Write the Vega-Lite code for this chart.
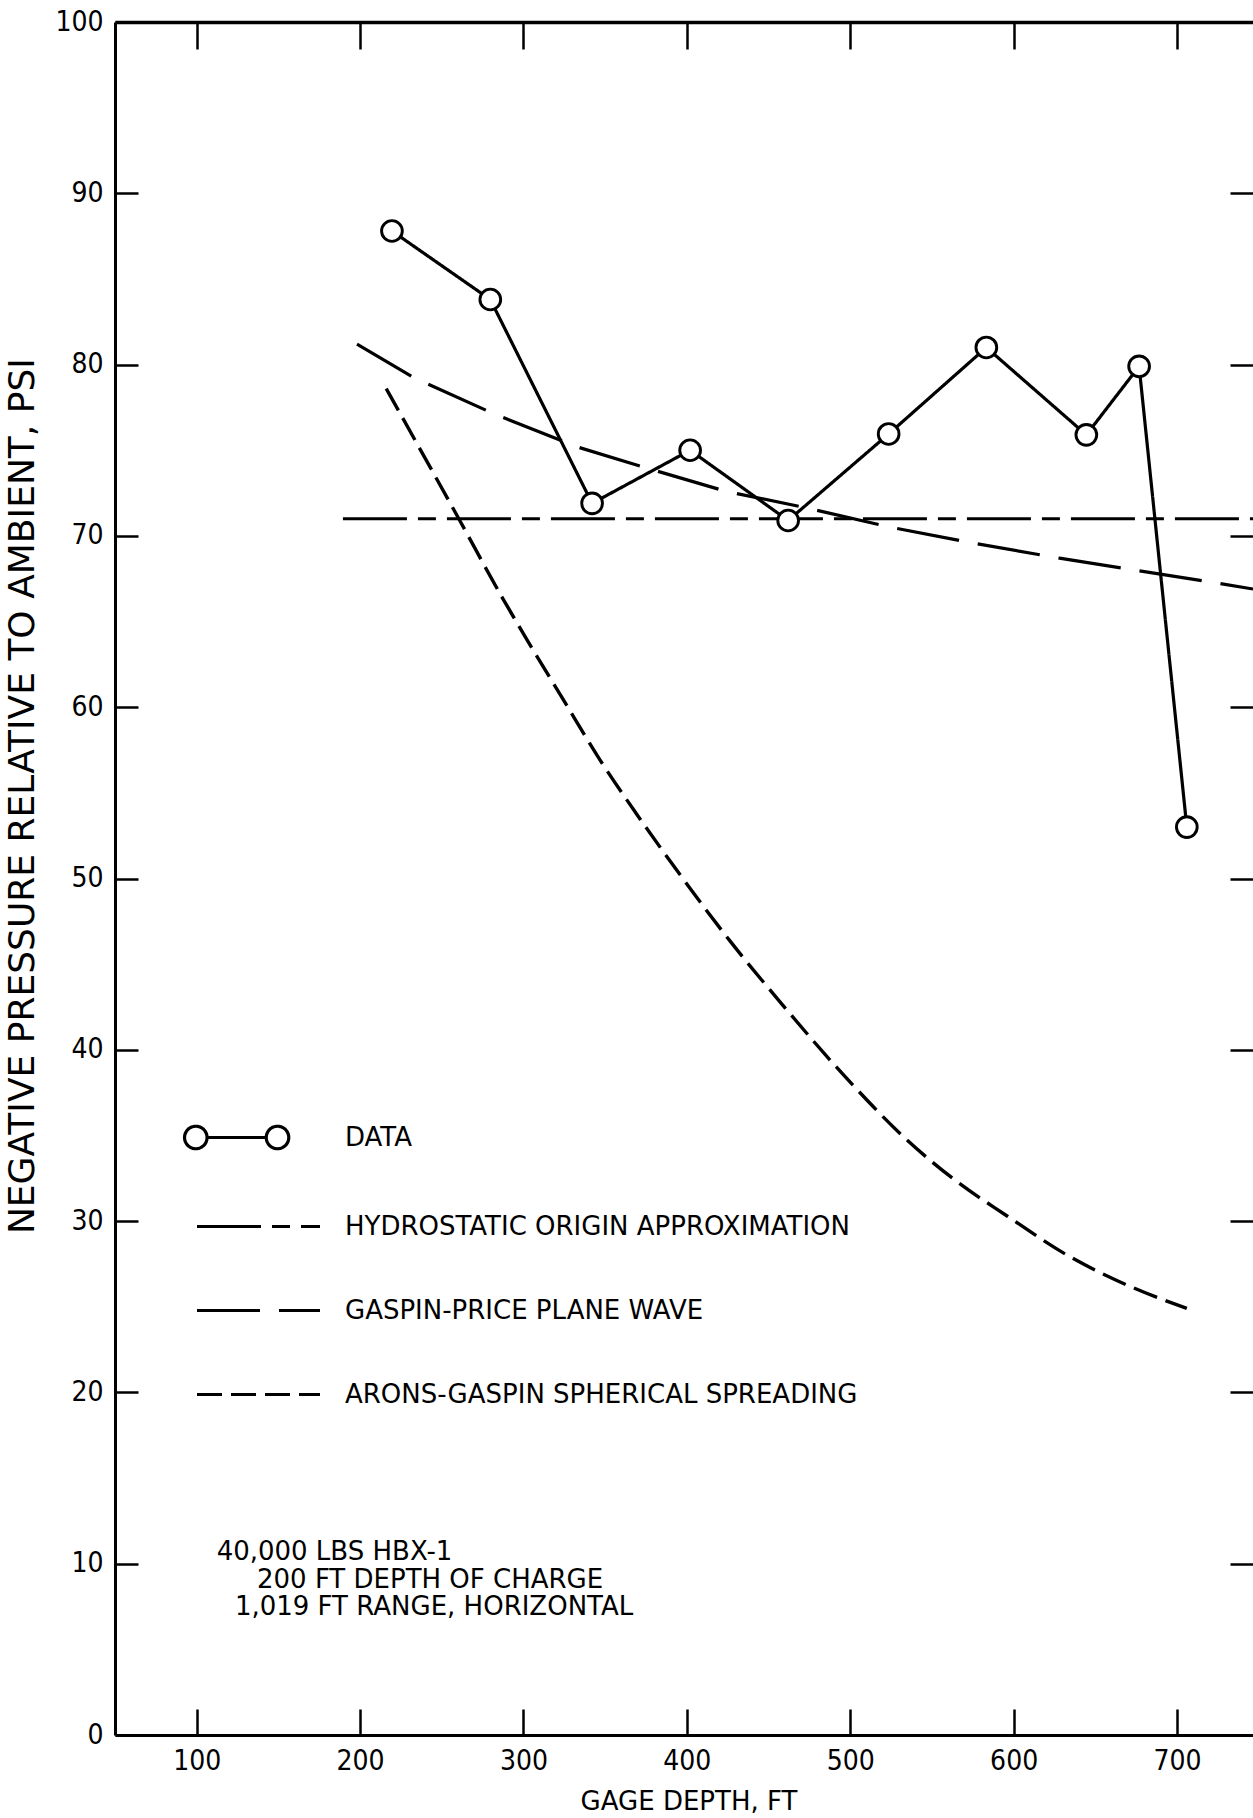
{
  "$schema": "https://vega.github.io/schema/vega-lite/v6.json",
  "width": 1138,
  "height": 1713,
  "autosize": {"type": "none"},
  "padding": {"left": 115, "top": 22, "right": 0, "bottom": 83},
  "background": "white",
  "config": {
    "view": {"stroke": null},
    "axis": {
      "grid": false,
      "domainColor": "black",
      "tickColor": "black",
      "labelColor": "black",
      "titleColor": "black",
      "domainWidth": 3,
      "tickWidth": 2.5,
      "labelFont": "Liberation Sans Narrow, DejaVu Sans Condensed, sans-serif",
      "labelFontSize": 28,
      "titleFont": "DejaVu Sans",
      "titleFontWeight": "normal",
      "labelFlush": false,
      "labelOverlap": false
    }
  },
  "datasets": {
    "curves": [
      {"series": "DATA", "x": 219.5, "y": 87.8},
      {"series": "DATA", "x": 279.7, "y": 83.8},
      {"series": "DATA", "x": 342, "y": 71.9},
      {"series": "DATA", "x": 402, "y": 75.0},
      {"series": "DATA", "x": 462, "y": 70.9},
      {"series": "DATA", "x": 523.5, "y": 75.95},
      {"series": "DATA", "x": 583.3, "y": 81.0},
      {"series": "DATA", "x": 644.5, "y": 75.9},
      {"series": "DATA", "x": 676.8, "y": 79.9},
      {"series": "DATA", "x": 706, "y": 53.0},
      {"series": "HYDROSTATIC ORIGIN APPROXIMATION", "x": 189.5, "y": 71.0},
      {"series": "HYDROSTATIC ORIGIN APPROXIMATION", "x": 746.5, "y": 71.0},
      {"series": "GASPIN-PRICE PLANE WAVE", "x": 198.1, "y": 81.2},
      {"series": "GASPIN-PRICE PLANE WAVE", "x": 233.6, "y": 79.2},
      {"series": "GASPIN-PRICE PLANE WAVE", "x": 282.6, "y": 77.1},
      {"series": "GASPIN-PRICE PLANE WAVE", "x": 332.7, "y": 75.2},
      {"series": "GASPIN-PRICE PLANE WAVE", "x": 374, "y": 74.0},
      {"series": "GASPIN-PRICE PLANE WAVE", "x": 424, "y": 72.6},
      {"series": "GASPIN-PRICE PLANE WAVE", "x": 470, "y": 71.7},
      {"series": "GASPIN-PRICE PLANE WAVE", "x": 525, "y": 70.5},
      {"series": "GASPIN-PRICE PLANE WAVE", "x": 574, "y": 69.6},
      {"series": "GASPIN-PRICE PLANE WAVE", "x": 628, "y": 68.7},
      {"series": "GASPIN-PRICE PLANE WAVE", "x": 681, "y": 67.9},
      {"series": "GASPIN-PRICE PLANE WAVE", "x": 721, "y": 67.3},
      {"series": "GASPIN-PRICE PLANE WAVE", "x": 746.5, "y": 66.9},
      {"series": "ARONS-GASPIN SPHERICAL SPREADING", "x": 216, "y": 78.6},
      {"series": "ARONS-GASPIN SPHERICAL SPREADING", "x": 261, "y": 70.9},
      {"series": "ARONS-GASPIN SPHERICAL SPREADING", "x": 287, "y": 66.4},
      {"series": "ARONS-GASPIN SPHERICAL SPREADING", "x": 303, "y": 63.8},
      {"series": "ARONS-GASPIN SPHERICAL SPREADING", "x": 324, "y": 60.5},
      {"series": "ARONS-GASPIN SPHERICAL SPREADING", "x": 347, "y": 56.9},
      {"series": "ARONS-GASPIN SPHERICAL SPREADING", "x": 369, "y": 53.8},
      {"series": "ARONS-GASPIN SPHERICAL SPREADING", "x": 396, "y": 50.2},
      {"series": "ARONS-GASPIN SPHERICAL SPREADING", "x": 426, "y": 46.4},
      {"series": "ARONS-GASPIN SPHERICAL SPREADING", "x": 457, "y": 42.8},
      {"series": "ARONS-GASPIN SPHERICAL SPREADING", "x": 502, "y": 37.9},
      {"series": "ARONS-GASPIN SPHERICAL SPREADING", "x": 534, "y": 34.8},
      {"series": "ARONS-GASPIN SPHERICAL SPREADING", "x": 564, "y": 32.4},
      {"series": "ARONS-GASPIN SPHERICAL SPREADING", "x": 596, "y": 30.3},
      {"series": "ARONS-GASPIN SPHERICAL SPREADING", "x": 633, "y": 28.0},
      {"series": "ARONS-GASPIN SPHERICAL SPREADING", "x": 671, "y": 26.2},
      {"series": "ARONS-GASPIN SPHERICAL SPREADING", "x": 706, "y": 24.9}
    ],
    "notes": [
      {"line": 1, "note": "40,000 LBS HBX-1"},
      {"line": 2, "note": "200 FT DEPTH OF CHARGE"},
      {"line": 3, "note": "1,019 FT RANGE, HORIZONTAL"}
    ]
  },
  "data": {"name": "curves"},
  "layer": [
    {
      "transform": [{"filter": "datum.series !== 'ARONS-GASPIN SPHERICAL SPREADING'"}],
      "mark": {"type": "line", "color": "black", "strokeWidth": 3.2},
      "encoding": {
        "x": {
          "field": "x", "type": "quantitative",
          "scale": {"domain": [50, 746.5], "nice": false, "zero": false},
          "axis": {
            "orient": "bottom",
            "values": [100, 200, 300, 400, 500, 600, 700],
            "title": "GAGE DEPTH, FT",
            "tickSize": -26,
            "labelPadding": 38,
            "labelBaseline": "top",
            "titleFontSize": 26,
            "titleX": 573.5,
            "titleY": 66,
            "titleBaseline": "middle",
            "titleAlign": "center"
          }
        },
        "y": {
          "field": "y", "type": "quantitative",
          "scale": {"domain": [0, 100], "nice": false, "zero": false},
          "axis": {
            "orient": "left",
            "values": [0, 10, 20, 30, 40, 50, 60, 70, 80, 90, 100],
            "title": "NEGATIVE PRESSURE RELATIVE TO AMBIENT, PSI",
            "tickSize": -23,
            "labelPadding": 35,
            "labelAlign": "right",
            "labelBaseline": "middle",
            "titleFontSize": 36,
            "titleX": -93,
            "titleY": 773.6,
            "titleAngle": -90,
            "titleBaseline": "middle",
            "titleAlign": "center"
          }
        },
        "strokeDash": {
          "field": "series", "type": "nominal",
          "scale": {
            "domain": ["DATA", "HYDROSTATIC ORIGIN APPROXIMATION", "GASPIN-PRICE PLANE WAVE", "ARONS-GASPIN SPHERICAL SPREADING"],
            "range": [[1, 0], [64, 11, 18, 11], [63, 19], [25, 9]]
          },
          "legend": {
            "orient": "none",
            "legendX": 121.5,
            "legendY": 1093.5,
            "title": null,
            "padding": 0,
            "symbolSize": 1600,
            "symbolType": "M-3.075,0L3.075,0",
            "symbolStrokeWidth": 3.2,
            "symbolStrokeColor": "black",
            "symbolFillColor": "white",
            "labelFont": "DejaVu Sans",
            "labelFontSize": 26,
            "labelColor": "black",
            "labelOffset": 64.5,
            "labelLimit": 1000,
            "rowPadding": 49,
            "encode": {
              "symbols": {
                "update": {
                  "shape": {"signal": "datum.value === 'DATA' ? 'M-3.6975,0A0.5625,0.5625,0,1,0,-2.5725,0A0.5625,0.5625,0,1,0,-3.6975,0ZM-2.5725,0L0.3875,0M0.3875,0A0.5625,0.5625,0,1,0,1.5125,0A0.5625,0.5625,0,1,0,0.3875,0Z' : 'M-3.075,0L3.075,0'"},
                  "strokeDash": {"signal": "datum.value === 'DATA' ? [1, 0] : datum.value === 'HYDROSTATIC ORIGIN APPROXIMATION' ? [43, 8, 21, 11] : datum.value === 'GASPIN-PRICE PLANE WAVE' ? [52, 10] : [23, 9]"},
                  "stroke": {"value": "black"},
                  "fill": {"value": "white"},
                  "strokeWidth": {"value": 3.2}
                }
              }
            }
          }
        }
      }
    },
    {
      "transform": [{"filter": "datum.series === 'ARONS-GASPIN SPHERICAL SPREADING'"}],
      "mark": {"type": "line", "color": "black", "strokeWidth": 3.4, "interpolate": "monotone", "strokeDash": [25, 9]},
      "encoding": {
        "x": {"field": "x", "type": "quantitative", "scale": {"domain": [50, 746.5], "nice": false, "zero": false}, "axis": null},
        "y": {"field": "y", "type": "quantitative", "scale": {"domain": [0, 100], "nice": false, "zero": false}, "axis": null}
      }
    },
    {
      "transform": [{"filter": "datum.series === 'DATA'"}],
      "mark": {"type": "point", "shape": "circle", "filled": true, "fill": "white", "stroke": "black", "strokeWidth": 2.9, "size": 430, "opacity": 1},
      "encoding": {
        "x": {
          "field": "x", "type": "quantitative",
          "scale": {"domain": [50, 746.5], "nice": false, "zero": false},
          "axis": {"orient": "top", "values": [100, 200, 300, 400, 500, 600, 700], "labels": false, "title": null, "tickSize": -27, "domainWidth": 3.5}
        },
        "y": {
          "field": "y", "type": "quantitative",
          "scale": {"domain": [0, 100], "nice": false, "zero": false},
          "axis": {"orient": "right", "values": [10, 20, 30, 40, 50, 60, 70, 80, 90], "labels": false, "title": null, "tickSize": -23, "domain": false}
        }
      }
    },
    {
      "data": {"name": "notes"},
      "transform": [{"filter": "datum.line === 1"}],
      "mark": {"type": "text", "align": "left", "baseline": "alphabetic", "font": "DejaVu Sans", "fontSize": 26, "color": "black"},
      "encoding": {
        "x": {"datum": 112.2, "type": "quantitative", "scale": {"domain": [50, 746.5], "nice": false, "zero": false}, "axis": null},
        "y": {"datum": 10.22, "type": "quantitative", "scale": {"domain": [0, 100], "nice": false, "zero": false}, "axis": null},
        "text": {"field": "note", "type": "nominal"}
      }
    },
    {
      "data": {"name": "notes"},
      "transform": [{"filter": "datum.line === 2"}],
      "mark": {"type": "text", "align": "left", "baseline": "alphabetic", "font": "DejaVu Sans", "fontSize": 26, "color": "black"},
      "encoding": {
        "x": {"datum": 136.9, "type": "quantitative", "scale": {"domain": [50, 746.5], "nice": false, "zero": false}, "axis": null},
        "y": {"datum": 8.61, "type": "quantitative", "scale": {"domain": [0, 100], "nice": false, "zero": false}, "axis": null},
        "text": {"field": "note", "type": "nominal"}
      }
    },
    {
      "data": {"name": "notes"},
      "transform": [{"filter": "datum.line === 3"}],
      "mark": {"type": "text", "align": "left", "baseline": "alphabetic", "font": "DejaVu Sans", "fontSize": 26, "color": "black"},
      "encoding": {
        "x": {"datum": 123.4, "type": "quantitative", "scale": {"domain": [50, 746.5], "nice": false, "zero": false}, "axis": null},
        "y": {"datum": 7.01, "type": "quantitative", "scale": {"domain": [0, 100], "nice": false, "zero": false}, "axis": null},
        "text": {"field": "note", "type": "nominal"}
      }
    }
  ],
  "resolve": {"axis": {"x": "independent", "y": "independent"}}
}
